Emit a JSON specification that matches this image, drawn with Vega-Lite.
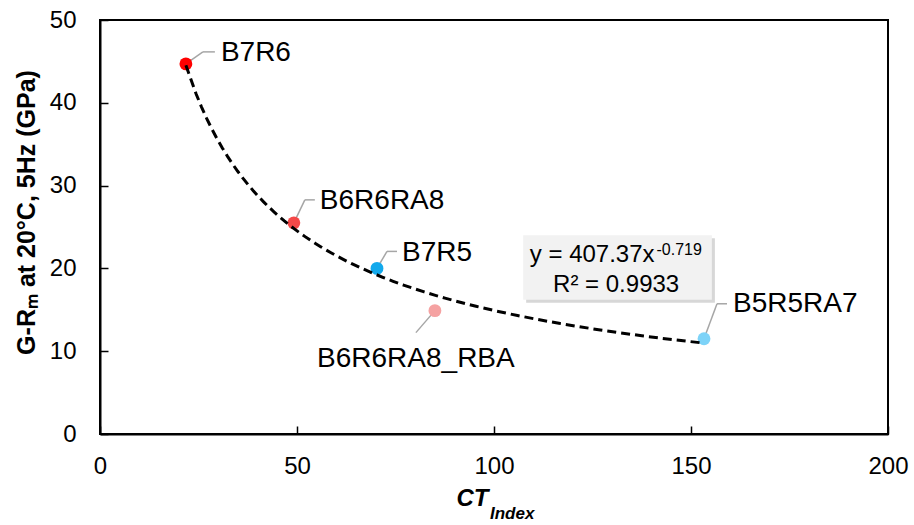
{
  "$schema": "https://vega.github.io/schema/vega-lite/v6.json",
  "width": 788,
  "height": 414,
  "autosize": {"type": "none"},
  "padding": {"left": 100, "top": 20, "right": 26, "bottom": 91},
  "background": "white",
  "config": {
    "view": {"stroke": "black", "strokeWidth": 2},
    "font": "Liberation Sans",
    "axis": {
      "grid": false,
      "domainColor": "black",
      "domainWidth": 2,
      "tickColor": "black",
      "tickWidth": 1.5,
      "tickSize": -8,
      "labelFont": "Liberation Sans",
      "labelFontSize": 24,
      "labelColor": "black",
      "labelFlush": false,
      "labelOverlap": false,
      "labelBound": false,
      "titleFont": "Liberation Sans",
      "titleFontSize": 24,
      "titleFontWeight": "bold",
      "titleColor": "black"
    }
  },
  "title": {
    "text": "Index",
    "orient": "bottom",
    "anchor": "start",
    "frame": "group",
    "dx": 390,
    "offset": -4,
    "font": "Liberation Sans",
    "fontSize": 17,
    "fontStyle": "italic",
    "fontWeight": "bold",
    "color": "black"
  },
  "data": {
    "values": [
      {"sample": "B7R6", "CT": 21.8, "G": 44.7},
      {"sample": "B6R6RA8", "CT": 49.2, "G": 25.5},
      {"sample": "B7R5", "CT": 70.3, "G": 20.0},
      {"sample": "B6R6RA8_RBA", "CT": 85.0, "G": 14.9},
      {"sample": "B5R5RA7", "CT": 153.3, "G": 11.5}
    ]
  },
  "encoding": {
    "x": {
      "field": "CT",
      "type": "quantitative",
      "scale": {"domain": [0, 200], "nice": false, "zero": true},
      "axis": {
        "values": [0, 50, 100, 150, 200],
        "labelPadding": 28,
        "title": "CT",
        "titleFontStyle": "italic",
        "titleAlign": "center",
        "titleBaseline": "alphabetic",
        "titleX": 372,
        "titleY": 71
      }
    },
    "y": {
      "field": "G",
      "type": "quantitative",
      "scale": {"domain": [0, 50], "nice": false},
      "axis": {
        "values": [0, 10, 20, 30, 40, 50],
        "labelPadding": 32,
        "title": "G-Rₘ at 20°C, 5Hz (GPa)",
        "titleFontSize": 25,
        "titlePadding": 10,
        "titleY": 192
      }
    }
  },
  "layer": [
    {
      "transform": [{"aggregate": [{"op": "min", "field": "CT", "as": "CT"}, {"op": "min", "field": "G", "as": "G"}]}],
      "layer": [
        {
          "mark": {"type": "rect", "fill": "#A6A6A6", "opacity": 0.45, "xOffset": 3, "x2Offset": 3, "yOffset": 3, "y2Offset": 3},
          "encoding": {
            "x": {"datum": 107.4}, "x2": {"datum": 155.3},
            "y": {"datum": 24.0}, "y2": {"datum": 16.2}
          }
        },
        {
          "mark": {"type": "rect", "fill": "#F2F2F2"},
          "encoding": {
            "x": {"datum": 107.4}, "x2": {"datum": 155.3},
            "y": {"datum": 24.0}, "y2": {"datum": 16.2}
          }
        }
      ]
    },
    {
      "transform": [{"filter": "datum.sample === 'B7R6'"}],
      "layer": [
        {"mark": {"type": "rule", "color": "#A6A6A6", "strokeWidth": 1.5, "x2Offset": 17, "y2Offset": -12}, "encoding": {"x2": {"field": "CT"}, "y2": {"field": "G"}}},
        {"mark": {"type": "rule", "color": "#A6A6A6", "strokeWidth": 1.5, "xOffset": 17, "yOffset": -12, "x2Offset": 29, "y2Offset": -12}, "encoding": {"x2": {"field": "CT"}, "y2": {"field": "G"}}}
      ]
    },
    {
      "transform": [{"filter": "datum.sample === 'B6R6RA8'"}],
      "layer": [
        {"mark": {"type": "rule", "color": "#A6A6A6", "strokeWidth": 1.5, "x2Offset": 11, "y2Offset": -23}, "encoding": {"x2": {"field": "CT"}, "y2": {"field": "G"}}},
        {"mark": {"type": "rule", "color": "#A6A6A6", "strokeWidth": 1.5, "xOffset": 11, "yOffset": -23, "x2Offset": 21, "y2Offset": -23}, "encoding": {"x2": {"field": "CT"}, "y2": {"field": "G"}}}
      ]
    },
    {
      "transform": [{"filter": "datum.sample === 'B7R5'"}],
      "layer": [
        {"mark": {"type": "rule", "color": "#A6A6A6", "strokeWidth": 1.5, "x2Offset": 10, "y2Offset": -17}, "encoding": {"x2": {"field": "CT"}, "y2": {"field": "G"}}},
        {"mark": {"type": "rule", "color": "#A6A6A6", "strokeWidth": 1.5, "xOffset": 10, "yOffset": -17, "x2Offset": 20, "y2Offset": -17}, "encoding": {"x2": {"field": "CT"}, "y2": {"field": "G"}}}
      ]
    },
    {
      "transform": [{"filter": "datum.sample === 'B6R6RA8_RBA'"}],
      "mark": {"type": "rule", "color": "#A6A6A6", "strokeWidth": 1.5, "x2Offset": -19, "y2Offset": 22},
      "encoding": {"x2": {"field": "CT"}, "y2": {"field": "G"}}
    },
    {
      "transform": [{"filter": "datum.sample === 'B5R5RA7'"}],
      "layer": [
        {"mark": {"type": "rule", "color": "#A6A6A6", "strokeWidth": 1.5, "x2Offset": 13, "y2Offset": -35}, "encoding": {"x2": {"field": "CT"}, "y2": {"field": "G"}}},
        {"mark": {"type": "rule", "color": "#A6A6A6", "strokeWidth": 1.5, "xOffset": 13, "yOffset": -35, "x2Offset": 23, "y2Offset": -35}, "encoding": {"x2": {"field": "CT"}, "y2": {"field": "G"}}}
      ]
    },
    {
      "mark": {"type": "circle", "size": 165, "opacity": 1},
      "encoding": {
        "color": {
          "field": "sample",
          "type": "nominal",
          "legend": null,
          "scale": {
            "domain": ["B7R6", "B6R6RA8", "B7R5", "B6R6RA8_RBA", "B5R5RA7"],
            "range": ["#FF0000", "#F44848", "#12A9EC", "#F5A2A2", "#7DD3F8"]
          }
        }
      }
    },
    {
      "transform": [{"regression": "G", "on": "CT", "method": "pow"}],
      "mark": {"type": "line", "color": "black", "strokeWidth": 3, "strokeDash": [9, 5]},
      "encoding": {}
    },
    {
      "transform": [{"filter": "datum.sample === 'B7R6'"}],
      "mark": {"type": "text", "align": "left", "baseline": "middle", "fontSize": 28, "color": "black", "dx": 35, "dy": -11},
      "encoding": {"text": {"field": "sample"}}
    },
    {
      "transform": [{"filter": "datum.sample === 'B6R6RA8'"}],
      "mark": {"type": "text", "align": "left", "baseline": "middle", "fontSize": 28, "color": "black", "dx": 26, "dy": -22},
      "encoding": {"text": {"field": "sample"}}
    },
    {
      "transform": [{"filter": "datum.sample === 'B7R5'"}],
      "mark": {"type": "text", "align": "left", "baseline": "middle", "fontSize": 28, "color": "black", "dx": 25, "dy": -15},
      "encoding": {"text": {"field": "sample"}}
    },
    {
      "transform": [{"filter": "datum.sample === 'B6R6RA8_RBA'"}],
      "mark": {"type": "text", "align": "center", "baseline": "middle", "fontSize": 28, "color": "black", "dx": -19, "dy": 48},
      "encoding": {"text": {"field": "sample"}}
    },
    {
      "transform": [{"filter": "datum.sample === 'B5R5RA7'"}],
      "mark": {"type": "text", "align": "left", "baseline": "middle", "fontSize": 28, "color": "black", "dx": 29, "dy": -35},
      "encoding": {"text": {"field": "sample"}}
    },
    {
      "transform": [{"aggregate": [{"op": "min", "field": "CT", "as": "CT"}, {"op": "min", "field": "G", "as": "G"}]}],
      "layer": [
        {
          "mark": {"type": "text", "text": "y = 407.37x", "align": "right", "baseline": "alphabetic", "fontSize": 24, "color": "black", "dx": -1},
          "encoding": {"x": {"datum": 141}, "y": {"datum": 20.77}}
        },
        {
          "mark": {"type": "text", "text": "-0.719", "align": "left", "baseline": "alphabetic", "fontSize": 16, "color": "black", "dx": 1},
          "encoding": {"x": {"datum": 141}, "y": {"datum": 21.6}}
        },
        {
          "mark": {"type": "text", "text": "R² = 0.9933", "align": "center", "baseline": "alphabetic", "fontSize": 24, "color": "black"},
          "encoding": {"x": {"datum": 131}, "y": {"datum": 17.15}}
        }
      ]
    }
  ]
}
